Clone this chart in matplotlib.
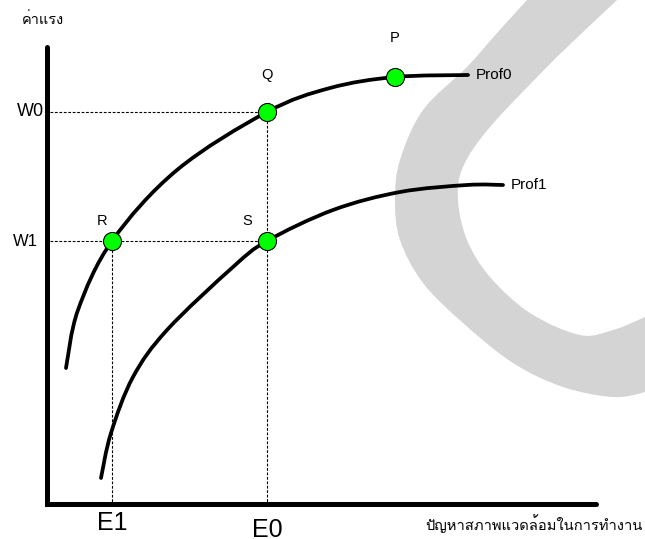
import matplotlib
matplotlib.use("Agg")
import matplotlib.pyplot as plt
from matplotlib import font_manager
from matplotlib.ft2font import FT2Font
from matplotlib.path import Path
from matplotlib.patches import PathPatch

# find an installed font that has Thai glyphs (Loma preferred)
thai_fonts = []
for f in font_manager.fontManager.ttflist:
    try:
        if 0x0E04 in FT2Font(f.fname).get_charmap() and f.name not in thai_fonts:
            thai_fonts.append(f.name)
    except Exception:
        pass
if 'Loma' in thai_fonts:
    thai_family = ['Loma', 'DejaVu Sans']
else:
    thai_family = thai_fonts[:1] + ['DejaVu Sans']

# curves (pixel coordinates, y downwards)
prof0_x = [66, 78, 112, 177, 267, 330, 395, 468]
prof0_y = [368, 310, 241, 170, 112, 88, 77, 75]
prof1_x = [101, 111, 133, 167, 233, 267, 333, 400, 467, 503]
prof1_y = [478, 433, 377, 330, 267, 241, 210, 192, 185, 185]

pt_names = ['P', 'Q', 'R', 'S']
pt_x = [395, 267, 112, 267]
pt_y = [77, 112, 241, 241]

w_labels = ['W0', 'W1']
w_y = [112, 241]
e_labels = ['E1', 'E0']
e_x = [112, 267]

# grey watermark band edges
band_outer_x = [545, 527, 497, 467, 423, 400, 395, 400, 423, 463, 513, 563, 613, 645, 680]
band_outer_y = [-20, 0, 33, 67, 110, 160, 200, 240, 283, 323, 363, 387, 397, 392, 380]
band_inner_x = [637, 617, 582, 547, 490, 463, 458, 467, 490, 530, 580, 613, 645, 680]
band_inner_y = [-20, 0, 33, 67, 127, 167, 200, 240, 277, 313, 335, 330, 317, 300]


def smooth(xs, ys):
    # bezier segments through the given points (catmull-rom tangents)
    pts = list(zip(xs, ys))
    verts, codes = [pts[0]], [Path.MOVETO]
    for i in range(len(pts) - 1):
        p0 = pts[i - 1] if i > 0 else pts[i]
        p1, p2 = pts[i], pts[i + 1]
        p3 = pts[i + 2] if i + 2 < len(pts) else pts[i + 1]
        c1 = (p1[0] + (p2[0] - p0[0]) / 6, p1[1] + (p2[1] - p0[1]) / 6)
        c2 = (p2[0] - (p3[0] - p1[0]) / 6, p2[1] - (p3[1] - p1[1]) / 6)
        verts += [c1, c2, p2]
        codes += [Path.CURVE4] * 3
    return verts, codes


fig = plt.figure(figsize=(6.45, 5.39), dpi=100)
ax = fig.add_axes([0, 0, 1, 1])
ax.set_xlim(0, 645)
ax.set_ylim(539, 0)
ax.axis('off')

ov, oc = smooth(band_outer_x, band_outer_y)
iv, ic = smooth(band_inner_x[::-1], band_inner_y[::-1])
ic[0] = Path.LINETO
band = Path(ov + iv + [ov[0]], oc + ic + [Path.CLOSEPOLY])
ax.add_patch(PathPatch(band, facecolor='#d4d4d4', lw=0, zorder=0))

# dotted guide lines
dot = dict(color='black', lw=0.8, ls=(0, (2.5, 1.5)), zorder=2)
ax.plot([50, pt_x[1]], [w_y[0], w_y[0]], **dot)
ax.plot([50, pt_x[3]], [w_y[1], w_y[1]], **dot)
ax.plot([e_x[0], e_x[0]], [pt_y[2], 503], **dot)
ax.plot([e_x[1], e_x[1]], [pt_y[1], 503], **dot)

for xs, ys in [(prof0_x, prof0_y), (prof1_x, prof1_y)]:
    v, c = smooth(xs, ys)
    ax.add_patch(PathPatch(Path(v, c), fill=False, edgecolor='black', lw=2.7,
                           capstyle='round', joinstyle='round', zorder=3))

# axes
ax.plot([47, 47, 596], [47, 504, 504], color='black', lw=3.6,
        solid_capstyle='round', solid_joinstyle='miter', zorder=4)

ax.plot(pt_x, pt_y, 'o', ms=13, mfc='#00ff00', mec='black', mew=0.8, zorder=5)

lat = ['Liberation Sans', 'DejaVu Sans']
lbl_off = [(0, -39), (0, -37), (-10, -20), (-20, -20)]
for n, x, y, (dx, dy) in zip(pt_names, pt_x, pt_y, lbl_off):
    ax.text(x + dx, y + dy, n, family=lat, fontsize=10.5, ha='center', va='center')

ax.text(44, w_y[0], w_labels[0], family=lat, fontsize=13, ha='right', va='center')
ax.text(38, w_y[1], w_labels[1], family=lat, fontsize=12, ha='right', va='center')
ax.text(e_x[0], 511, e_labels[0], family=lat, fontsize=18, ha='center', va='top')
ax.text(e_x[1], 518, e_labels[1], family=lat, fontsize=18, ha='center', va='top')

ax.text(476, 75, 'Prof0', family=lat, fontsize=11, ha='left', va='center')
ax.text(511, 185, 'Prof1', family=lat, fontsize=11, ha='left', va='center')

ax.text(22, 20, 'ค่าแรง', family=thai_family, fontsize=10.5, ha='left', va='center')
ax.text(643, 524, 'ปัญหาสภาพแวดล้อมในการทำงาน', family=thai_family, fontsize=10.6,
        ha='right', va='center')

fig.savefig('out.png', dpi=100)
